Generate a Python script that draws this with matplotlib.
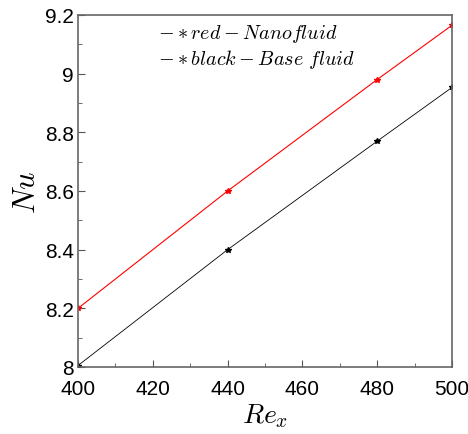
import matplotlib
matplotlib.use("Agg")
import matplotlib.pyplot as plt
from matplotlib.ticker import MultipleLocator

plt.rcParams['font.family'] = 'Liberation Sans'
plt.rcParams['mathtext.fontset'] = 'cm'

re_x = [400, 440, 480, 500]
nu_nano = [8.2, 8.6, 8.98, 9.165]
nu_base = [8.005, 8.4, 8.77, 8.953]

fig = plt.figure(figsize=(4.68, 4.35), dpi=100)
ax = fig.add_axes([78 / 468, 67 / 435, 374 / 468, 352 / 435])

ax.plot(re_x, nu_nano, color='red', lw=0.8, marker='*', ms=4)
ax.plot(re_x, nu_base, color='black', lw=0.6, marker='*', ms=4)

ax.set_xlim(400, 500)
ax.set_ylim(8, 9.2)
ax.xaxis.set_major_locator(MultipleLocator(20))
ax.xaxis.set_minor_locator(MultipleLocator(10))
ax.yaxis.set_minor_locator(MultipleLocator(0.1))
ax.set_yticks([8, 8.2, 8.4, 8.6, 8.8, 9, 9.2])
ax.set_yticklabels(['8', '8.2', '8.4', '8.6', '8.8', '9', '9.2'])
ax.tick_params(which='major', direction='in', length=5, labelsize=15, color='#555555')
ax.tick_params(axis='x', which='major', pad=9)
ax.tick_params(axis='y', which='major', pad=3)
ax.tick_params(which='minor', direction='in', length=3, color='#555555')
for s in ax.spines.values():
    s.set_color('#666666')
    s.set_linewidth(1.2)

ax.set_xlabel(r'$Re_x$', fontsize=20, labelpad=2)
ax.set_ylabel(r'$Nu$', fontsize=22, labelpad=2)

ax.text(0.215, 0.95, r'$- * red - Nanofluid$', transform=ax.transAxes, fontsize=14.5, va='center')
ax.text(0.215, 0.877, r'$- * black - Base\ fluid$', transform=ax.transAxes, fontsize=14.5, va='center')

fig.savefig('out.png', dpi=100)
